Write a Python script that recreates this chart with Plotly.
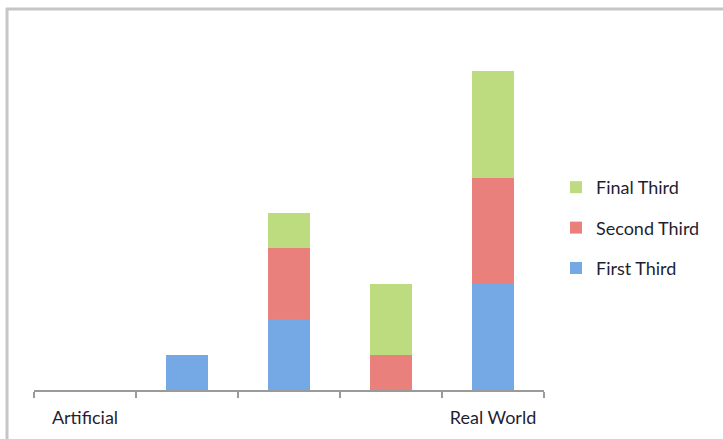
import plotly.graph_objects as go

categories = ["Artificial", " ", "  ", "   ", "Real World"]
first_third = [0, 1, 2, 0, 3]
second_third = [0, 0, 2, 1, 3]
final_third = [0, 0, 1, 2, 3]

W, H = 723, 439
L, R, T, B = 34, 179, 36, 49
pw = W - L - R
ph = H - T - B

fig = go.Figure()
series = [
    ("First Third", first_third, "#74a9e6", 3),
    ("Second Third", second_third, "#e9807c", 2),
    ("Final Third", final_third, "#bddc80", 1),
]
for name, vals, col, rank in series:
    fig.add_trace(go.Bar(x=categories, y=vals, name=name, marker_color=col,
                         marker_line_width=0, legendgroup=name,
                         legendrank=rank))

def px_x(p):
    return (p - L) / pw

def px_y(p):
    return (H - B - p) / ph

frame_col = "#c6c6c6"
fig.add_shape(type="line", xref="paper", yref="paper",
              x0=px_x(6), x1=px_x(730), y0=px_y(9), y1=px_y(9),
              line=dict(color=frame_col, width=3))
fig.add_shape(type="line", xref="paper", yref="paper",
              x0=px_x(7), x1=px_x(7), y0=px_y(8), y1=px_y(445),
              line=dict(color=frame_col, width=3))

fig.update_layout(
    width=W, height=H,
    margin=dict(l=L, r=R, t=T, b=B, autoexpand=False),
    barmode="stack",
    bargap=0.59,
    plot_bgcolor="white",
    paper_bgcolor="white",
    font=dict(family="Lato", size=18, color="#1f1f33"),
    showlegend=True,
    legend=dict(x=px_x(556), y=px_y(169), xanchor="left", yanchor="top",
                traceorder="grouped", tracegroupgap=14,
                font=dict(size=18), itemwidth=30),
    xaxis=dict(type="category", showgrid=False, showline=True,
               linecolor="#9a9a9a", linewidth=2, ticks="outside",
               tickson="boundaries", ticklen=6, tickcolor="#9a9a9a",
               tickwidth=2, tickfont=dict(size=18), zeroline=False,
               ticklabelstandoff=10, automargin=False),
    yaxis=dict(range=[0, 10], visible=False, showgrid=False,
               automargin=False),
)

fig.write_html("out.html", config={"displayModeBar": False},
               post_script="document.body.style.margin='0';document.body.style.padding='0';")
